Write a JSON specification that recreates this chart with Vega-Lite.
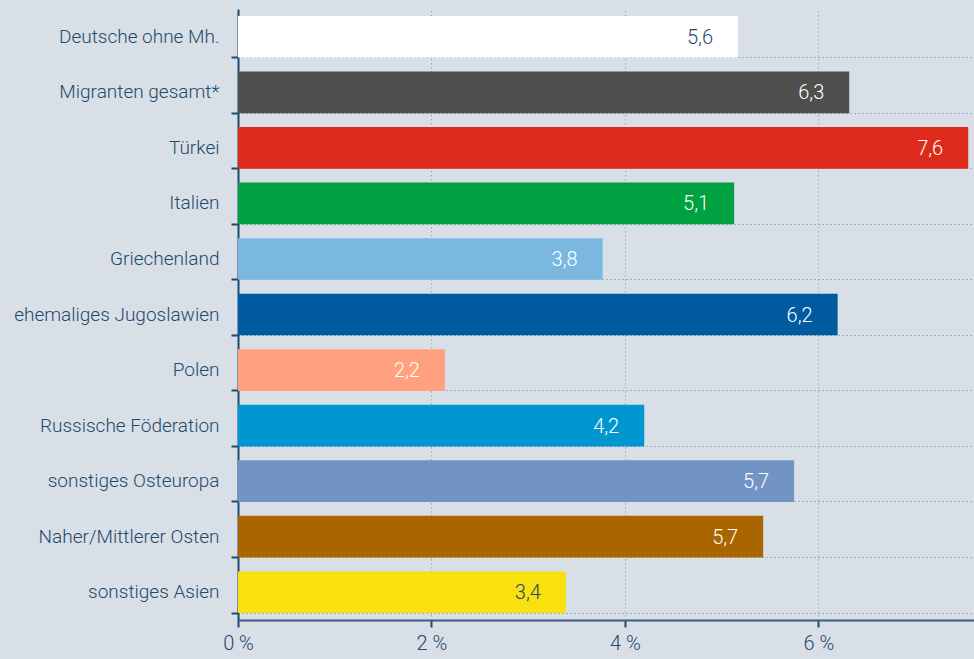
{
  "$schema": "https://vega.github.io/schema/vega-lite/v6.json",
  "width": 736,
  "height": 611,
  "autosize": {"type": "none"},
  "padding": {"left": 238, "top": 9, "right": 0, "bottom": 39},
  "background": "#d8dfe6",
  "config": {
    "view": {"stroke": null},
    "font": "Roboto"
  },
  "data": {
    "values": [
      {"gruppe": "Deutsche ohne Mh.", "wert": 5.17, "label": "5,6"},
      {"gruppe": "Migranten gesamt*", "wert": 6.32, "label": "6,3"},
      {"gruppe": "Türkei", "wert": 7.55, "label": "7,6"},
      {"gruppe": "Italien", "wert": 5.13, "label": "5,1"},
      {"gruppe": "Griechenland", "wert": 3.77, "label": "3,8"},
      {"gruppe": "ehemaliges Jugoslawien", "wert": 6.2, "label": "6,2"},
      {"gruppe": "Polen", "wert": 2.14, "label": "2,2"},
      {"gruppe": "Russische Föderation", "wert": 4.2, "label": "4,2"},
      {"gruppe": "sonstiges Osteuropa", "wert": 5.75, "label": "5,7"},
      {"gruppe": "Naher/Mittlerer Osten", "wert": 5.43, "label": "5,7"},
      {"gruppe": "sonstiges Asien", "wert": 3.39, "label": "3,4"}
    ]
  },
  "encoding": {
    "y": {
      "field": "gruppe",
      "type": "nominal",
      "sort": null,
      "scale": {"paddingInner": 0.25, "paddingOuter": 0.125},
      "axis": {
        "title": null,
        "bandPosition": 1,
        "grid": true,
        "gridColor": "#8fa3b5",
        "gridDash": [1.5, 2.5],
        "gridWidth": 1,
        "domainColor": "#1e4a6d",
        "domainWidth": 2,
        "tickColor": "#1e4a6d",
        "tickWidth": 2,
        "tickSize": 7,
        "labelPadding": 12,
        "labelLimit": 0,
        "labelFontSize": 19,
        "labelFontWeight": 300,
        "labelColor": "#1e4a6d",
        "labelFont": "Roboto"
      }
    },
    "x": {
      "field": "wert",
      "type": "quantitative",
      "scale": {"domain": [0, 7.61], "nice": false, "zero": true},
      "axis": {
        "title": null,
        "values": [0, 2, 4, 6],
        "labelExpr": "datum.value + ' %'",
        "grid": true,
        "gridColor": "#9aabbb",
        "gridDash": [1.5, 2.5],
        "gridWidth": 1,
        "domainColor": "#3d5d78",
        "domainWidth": 2,
        "tickColor": "#1e4a6d",
        "tickWidth": 2,
        "tickSize": 7,
        "labelPadding": 6,
        "labelFontSize": 20,
        "labelFontWeight": 300,
        "labelColor": "#1e4a6d",
        "labelFont": "Roboto",
        "labelFlush": false
      }
    }
  },
  "layer": [
    {
      "mark": {"type": "bar"},
      "encoding": {
        "color": {
          "field": "gruppe",
          "type": "nominal",
          "legend": null,
          "scale": {
            "domain": ["Deutsche ohne Mh.", "Migranten gesamt*", "Türkei", "Italien", "Griechenland", "ehemaliges Jugoslawien", "Polen", "Russische Föderation", "sonstiges Osteuropa", "Naher/Mittlerer Osten", "sonstiges Asien"],
            "range": ["#ffffff", "#4f4f4d", "#de2a1b", "#00a140", "#7ab8e0", "#005ba0", "#ffa07e", "#0096cf", "#7294c5", "#a86500", "#f9e00e"]
          }
        }
      }
    },
    {
      "mark": {"type": "text", "align": "right", "baseline": "middle", "dx": -25, "dy": 1, "fontSize": 20, "fontWeight": 300, "font": "Roboto"},
      "encoding": {
        "text": {"field": "label"},
        "color": {
          "condition": {"test": "datum.gruppe === 'Deutsche ohne Mh.' || datum.gruppe === 'sonstiges Asien'", "value": "#1e4a6d"},
          "value": "#ffffff"
        }
      }
    }
  ]
}
